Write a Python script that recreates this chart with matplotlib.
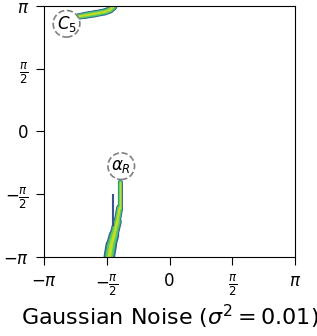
import numpy as np
import matplotlib.pyplot as plt
from matplotlib.collections import LineCollection

# Sampled dihedral path (phi, psi) in radians
alpha_phi = [-1.25, -1.25, -1.31, -1.39, -1.46, -1.51]
alpha_psi = [-1.26, -1.91, -2.26, -2.59, -2.84, -3.14]
alpha_width = [4, 6, 8, 10, 11, 12]   # band width (px)

c5_phi = [-2.29, -2.12, -1.87, -1.61, -1.49, -1.41, -1.39]
c5_psi = [2.87, 2.90, 2.94, 2.99, 3.04, 3.12, 3.19]
c5_width = [6, 7, 7, 7, 7, 8, 8]

streak_phi = [-1.41, -1.41]
streak_psi = [-1.58, -2.34]

# viridis-like layers: outer edge -> core
layers = [(1.0, '#3b528b'), (0.85, '#21918c'), (0.68, '#5ec962'), (0.3, '#c2df23')]

ticks = [-np.pi, -np.pi / 2, 0, np.pi / 2, np.pi]
tick_labels = [r'$-\pi$', r'$-\frac{\pi}{2}$', '0', r'$\frac{\pi}{2}$', r'$\pi$']

fig = plt.figure(figsize=(3.17, 3.36), dpi=100)
ax = fig.add_axes([0.139, 0.235, 0.792, 0.748])


def band(phi, psi, width):
    pts = np.column_stack([phi, psi])
    segs = np.stack([pts[:-1], pts[1:]], axis=1)
    w = np.array(width, dtype=float)
    w = (w[:-1] + w[1:]) / 2 * 0.72
    for frac, col in layers:
        ax.add_collection(LineCollection(segs, linewidths=w * frac, colors=col,
                                         capstyle='round', joinstyle='round'))


band(alpha_phi, alpha_psi, alpha_width)
band(c5_phi, c5_psi, c5_width)
ax.plot(streak_phi, streak_psi, color='#3b528b', lw=1.5)

circle = dict(boxstyle='circle,pad=0.2', fc='white', ec='gray', ls='--', lw=1.2)
ax.text(-2.58, 2.69, r'$C_5$', ha='center', va='center', fontsize=12, bbox=circle)
ax.text(-1.21, -0.87, r'$\alpha_R$', ha='center', va='center', fontsize=12, bbox=circle)

ax.set_xlim(-np.pi, np.pi)
ax.set_ylim(-np.pi, np.pi)
ax.set_xticks(ticks)
ax.set_xticklabels(tick_labels)
ax.set_yticks(ticks)
ax.set_yticklabels(tick_labels)
ax.tick_params(labelsize=12, length=6, pad=5)
ax.set_xlabel(r'Gaussian Noise ($\sigma^2 = 0.01$)', fontsize=16, labelpad=4)

fig.savefig('out.png', dpi=100)
